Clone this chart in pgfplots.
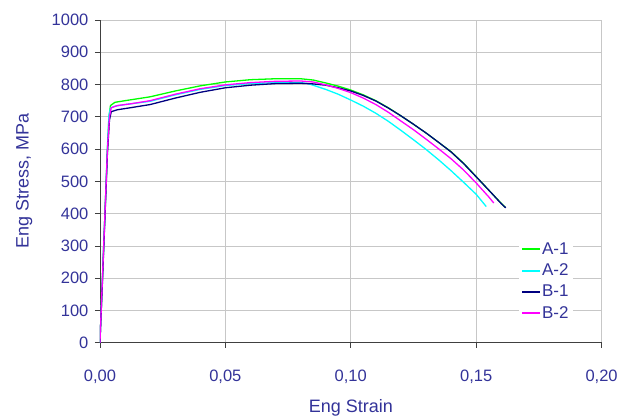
\documentclass[border=0pt]{standalone}
\usepackage{fontspec}
\setmainfont{Liberation Sans}
\usepackage{pgfplots}
\pgfplotsset{compat=1.18}
\definecolor{txt}{RGB}{51,51,153}
\definecolor{cA1}{RGB}{0,255,0}
\definecolor{cA2}{RGB}{0,255,255}
\definecolor{cB1}{RGB}{0,0,128}
\definecolor{cB2}{RGB}{255,0,255}
\newcommand{\tickfont}{\fontsize{16.5}{19}\selectfont}
\begin{document}
\begin{tikzpicture}
\begin{axis}[
  name=ax,
  scale only axis,
  width=502pt, height=323pt,
  xmin=0, xmax=0.2, ymin=0, ymax=1000,
  xtick={0,0.05,0.1,0.15,0.2},
  ytick={0,100,...,1000},
  axis lines=left,
  axis line style={-, draw=black!75, line width=0.8pt},
  tick align=outside,
  major tick length=5pt,
  tick style={draw=black!75, line width=0.8pt},
  grid=major,
  major grid style={draw=black!22, line width=0.7pt},
  /pgf/number format/assume math mode=true,
  xticklabel style={font=\tickfont, text=txt, /pgf/number format/fixed, /pgf/number format/fixed zerofill, /pgf/number format/precision=2, /pgf/number format/use comma, yshift=-19pt},
  yticklabel style={font=\tickfont, text=txt, /pgf/number format/1000 sep={}, xshift=-3pt},
  xlabel={Eng Strain},
  ylabel={Eng Stress, MPa},
  label style={font=\fontsize{18}{21}\selectfont, text=txt},
  xlabel style={at={(axis description cs:0.5,-0.201)}, anchor=center},
  ylabel style={at={(axis description cs:-0.153,0.5)}, anchor=center, yshift=-1pt},
  legend style={draw=none, fill=white, at={(0.835,0.326)}, anchor=north west,
    font=\fontsize{17}{20}\selectfont, text=txt, row sep=4pt, inner sep=3pt,
    nodes={fill=none}},
  legend cell align=left,
  legend image code/.code={\fill[#1, draw=none] (0pt,-0.9pt) rectangle (18pt,0.9pt);},
  every axis plot/.append style={line width=1.3pt},
]
\addplot[cA1] coordinates {
(0,0) (0.001,200) (0.002,400) (0.003,600) (0.0036,700) (0.0042,735) (0.006,745)
(0.01,750) (0.02,762) (0.03,780) (0.04,796) (0.05,808) (0.06,815) (0.07,818)
(0.08,818) (0.085,814) (0.09,805) (0.095,795) (0.10,783) (0.105,768) (0.11,750)
(0.115,728) (0.12,703) (0.125,677) (0.13,650) (0.135,621) (0.14,592) (0.145,556)
(0.15,515) (0.155,473) (0.16,432) (0.1615,420)};
\addlegendentry{A-1}
\addplot[cA2] coordinates {
(0,0) (0.001,200) (0.002,400) (0.003,610) (0.0036,705) (0.0042,727) (0.006,733)
(0.01,738) (0.02,748) (0.03,768) (0.04,785) (0.05,797) (0.06,803) (0.07,806)
(0.08,806) (0.083,803) (0.09,785) (0.095,770) (0.10,752) (0.105,733) (0.11,711)
(0.115,686) (0.12,658) (0.125,629) (0.13,599) (0.135,567) (0.14,533) (0.145,497)
(0.15,460) (0.154,422)};
\addlegendentry{A-2}
\addplot[cB1] coordinates {
(0,0) (0.001,190) (0.002,390) (0.003,590) (0.0038,690) (0.0045,716) (0.007,722)
(0.012,728) (0.02,738) (0.03,758) (0.04,776) (0.05,790) (0.06,798) (0.07,803)
(0.08,804) (0.085,802) (0.09,798) (0.095,790) (0.10,780) (0.105,766) (0.11,749)
(0.115,727) (0.12,703) (0.125,677) (0.13,650) (0.135,621) (0.14,591) (0.145,555)
(0.15,514) (0.155,473) (0.16,431) (0.1618,418)};
\addlegendentry{B-1}
\addplot[cB2] coordinates {
(0,0) (0.001,200) (0.002,400) (0.003,600) (0.0038,700) (0.0045,728) (0.007,735)
(0.012,740) (0.02,750) (0.03,770) (0.04,787) (0.05,799) (0.06,806) (0.07,810)
(0.08,811) (0.085,808) (0.09,799) (0.095,788) (0.10,775) (0.105,758) (0.11,738)
(0.115,714) (0.12,687) (0.125,660) (0.13,631) (0.135,601) (0.14,570) (0.145,535)
(0.15,495) (0.155,452) (0.157,433)};
\addlegendentry{B-2}
\end{axis}
\path (ax.south west) ++(-100pt,-75pt);
\path (ax.north east) ++(19pt,20pt);
\end{tikzpicture}
\end{document}
